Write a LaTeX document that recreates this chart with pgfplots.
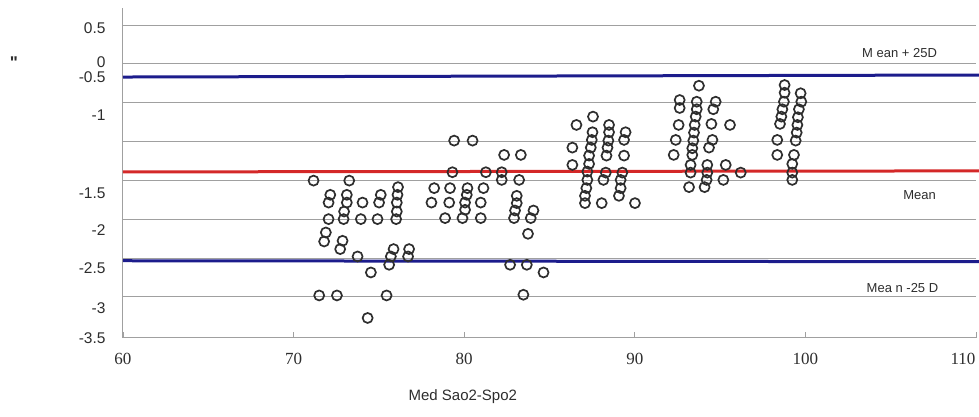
\documentclass[border=0pt]{standalone}
\usepackage{fontspec}
\setmainfont{Liberation Sans}
\newfontfamily\seriffont{Liberation Serif}
\newfontfamily\qfont[Ligatures=TeXOff]{Liberation Sans}
\usepackage{pgfplots}
\usepackage{pgfplotstable}
\pgfplotsset{compat=1.18}
\definecolor{bl}{RGB}{28,28,140}
\definecolor{rd}{RGB}{212,40,40}
\definecolor{gridc}{RGB}{160,160,160}
\definecolor{txt}{RGB}{45,45,45}
\pgfplotstableread{
x y
71.17 -1.503
73.26 -1.503
72.15 -1.686
72.05 -1.786
73.12 -1.686
73.12 -1.786
72.96 -1.901
74.04 -1.786
75.11 -1.686
75.01 -1.786
76.12 -1.587
76.09 -1.686
76.05 -1.786
76.05 -1.901
72.05 -1.999
72.93 -1.999
73.94 -1.999
74.92 -1.999
76.01 -1.999
71.89 -2.171
71.79 -2.287
72.87 -2.278
72.73 -2.385
73.75 -2.480
74.53 -2.686
75.86 -2.385
75.70 -2.480
75.60 -2.587
76.77 -2.385
76.71 -2.480
71.50 -2.982
72.54 -2.982
75.45 -2.982
74.34 -3.272
79.41 -0.988
80.49 -0.988
82.34 -1.172
83.32 -1.172
79.31 -1.395
81.27 -1.395
82.20 -1.395
82.20 -1.494
83.22 -1.494
78.24 -1.600
79.17 -1.600
80.19 -1.600
81.13 -1.600
80.15 -1.686
78.08 -1.786
79.12 -1.786
80.05 -1.786
80.97 -1.786
80.05 -1.879
78.88 -1.986
79.90 -1.986
80.97 -1.986
83.08 -1.699
83.08 -1.793
82.98 -1.888
82.92 -1.986
84.06 -1.888
83.90 -1.986
83.74 -2.188
82.69 -2.587
83.67 -2.587
84.65 -2.686
83.47 -2.973
87.55 -0.679
86.58 -0.786
88.49 -0.786
87.52 -0.880
88.49 -0.880
89.46 -0.880
87.48 -0.979
88.45 -0.988
89.37 -0.979
86.34 -1.078
87.42 -1.078
88.40 -1.078
87.32 -1.181
88.34 -1.181
89.37 -1.181
86.34 -1.301
87.32 -1.288
87.22 -1.387
88.30 -1.400
89.27 -1.400
87.22 -1.494
88.16 -1.494
89.17 -1.494
87.16 -1.600
89.17 -1.600
87.08 -1.699
89.07 -1.699
87.08 -1.793
88.06 -1.793
90.01 -1.793
92.63 -0.465
92.63 -0.568
92.57 -0.786
92.40 -0.979
92.28 -1.172
93.76 -0.281
93.63 -0.487
93.63 -0.584
93.57 -0.679
93.51 -0.786
93.47 -0.885
93.43 -0.988
93.37 -1.086
93.37 -1.172
93.27 -1.301
93.27 -1.400
93.18 -1.587
94.74 -0.487
94.60 -0.584
94.49 -0.773
95.58 -0.786
94.55 -0.979
94.35 -1.078
94.25 -1.301
94.25 -1.400
94.21 -1.494
94.09 -1.587
95.33 -1.301
95.19 -1.494
96.21 -1.400
98.78 -0.272
98.78 -0.371
98.74 -0.487
98.65 -0.584
98.59 -0.679
98.51 -0.773
98.35 -0.979
98.35 -1.172
99.72 -0.378
99.76 -0.487
99.62 -0.584
99.56 -0.687
99.53 -0.786
99.49 -0.885
99.43 -0.988
99.33 -1.172
99.23 -1.288
99.23 -1.400
99.23 -1.494
}\pts
\begin{document}
\begin{tikzpicture}
\useasboundingbox (-123pt,-79pt) rectangle (856pt,338pt);
\begin{axis}[
  at={(0pt,0pt)}, anchor=south west,
  scale only axis, width=853pt, height=330pt,
  xmin=60, xmax=110, ymin=-3.53, ymax=0.72,
  axis x line*=bottom, axis y line*=left,
  axis line style={-, draw=gridc, line width=1pt},
  every outer x axis line/.append style={-},
  every outer y axis line/.append style={-},
  every inner x axis line/.append style={-},
  every inner y axis line/.append style={-},
  ytick={0.5,0,-0.5,-1,-1.5,-2,-2.5,-3},
  yticklabels={},
  ymajorgrids,
  major grid style={gridc, line width=0.9pt},
  extra y ticks={0.461,0.024,-0.169,-0.658,-1.661,-2.137,-2.625,-3.140,-3.53},
  extra y tick labels={0.5,0,-0.5,-1,-1.5,-2,-2.5,-3,-3.5},
  extra y tick style={grid=none},
  ytick style={draw=none},
  yticklabel style={font=\fontsize{15.5}{15.5}\selectfont, text=txt, anchor=east, xshift=-14pt},
  xtick={60,70,80,90,100},
  extra x ticks={110},
  extra x tick labels={110},
  extra x tick style={xticklabel style={xshift=-13pt}},
  xtick style={draw=gridc, line width=0.7pt},
  tick align=inside, major tick length=6pt,
  xticklabel style={font=\seriffont\fontsize{17}{17}\selectfont, text=txt, yshift=-12pt},
  /pgf/number format/assume math mode=true,
  clip=false,
]
\addplot[no marks, line width=3pt, color=bl] coordinates {(60,-0.169) (110.2,-0.143)};
\addplot[no marks, line width=3pt, color=rd] coordinates {(60,-1.391) (110.2,-1.378)};
\addplot[no marks, line width=3pt, color=bl] coordinates {(60,-2.535) (110.2,-2.548)};
\addplot[only marks, mark=o, mark size=5pt, mark options={line width=1.7pt, draw=black!82}] table[x=x,y=y] {\pts};
\node[font=\fontsize{13}{13}\selectfont, text=txt] at (axis cs:105.52,0.14) {M ean + 25D};
\node[font=\fontsize{13}{13}\selectfont, text=txt] at (axis cs:106.69,-1.686) {Mean};
\node[font=\fontsize{13}{13}\selectfont, text=txt] at (axis cs:105.69,-2.883) {Mea n -25 D};
\node[font=\qfont\bfseries\fontsize{17}{17}\selectfont, text=txt] at (axis cs:53.6,0.011) {"};
\node[font=\fontsize{15}{15}\selectfont, text=txt] at (axis cs:79.92,-4.285) {Med Sao2-Spo2};
\end{axis}
\end{tikzpicture}
\end{document}
